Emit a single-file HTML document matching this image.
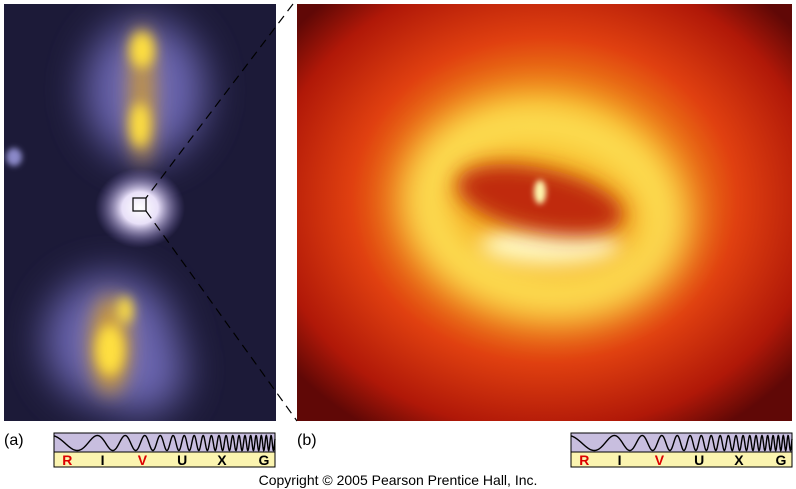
<!DOCTYPE html>
<html><head><style>
body{margin:0;width:796px;height:489px;background:#fff;overflow:hidden;position:relative;font-family:"Liberation Sans",sans-serif}
.abs{position:absolute}
</style></head><body>
<svg class="abs" style="left:0;top:0" width="796" height="489">
<defs>
<filter id="b6" filterUnits="userSpaceOnUse" x="0" y="0" width="796" height="489"><feGaussianBlur stdDeviation="6"/></filter>
<filter id="b10" filterUnits="userSpaceOnUse" x="0" y="0" width="796" height="489"><feGaussianBlur stdDeviation="10"/></filter>
<filter id="b20" filterUnits="userSpaceOnUse" x="0" y="0" width="796" height="489"><feGaussianBlur stdDeviation="20"/></filter>
<filter id="b3" filterUnits="userSpaceOnUse" x="0" y="0" width="796" height="489"><feGaussianBlur stdDeviation="3"/></filter>
<radialGradient id="rg" cx="0.5" cy="0.47" r="0.65">
<stop offset="0" stop-color="#f8c828"/><stop offset="0.35" stop-color="#f29a18"/><stop offset="0.6" stop-color="#e04010"/><stop offset="0.85" stop-color="#b01808"/><stop offset="1" stop-color="#600806"/></radialGradient>
<radialGradient id="core" cx="0.5" cy="0.5" r="0.5"><stop offset="0" stop-color="#fff"/><stop offset="0.4" stop-color="#e8e0f8"/><stop offset="1" stop-color="#8070c0" stop-opacity="0"/></radialGradient>
<clipPath id="cl"><rect x="4" y="4" width="272" height="417"/></clipPath>
<clipPath id="cr"><rect x="297" y="4" width="495" height="417"/></clipPath>
</defs>
<g clip-path="url(#cl)">
<rect x="4" y="4" width="272" height="417" fill="#1c1a38"/>
<g filter="url(#b20)" fill="#7a74c8" opacity="0.85">
<ellipse cx="145" cy="90" rx="60" ry="70"/>
<ellipse cx="110" cy="340" rx="65" ry="65"/>
<ellipse cx="140" cy="370" rx="45" ry="45"/>
</g>
<g filter="url(#b10)" fill="#c89840">
<ellipse cx="142" cy="95" rx="12" ry="70"/>
<ellipse cx="110" cy="345" rx="20" ry="50"/>
</g>
<g filter="url(#b6)" fill="#ffe040">
<ellipse cx="142" cy="50" rx="12" ry="18"/>
<ellipse cx="140" cy="125" rx="10" ry="22"/>
<ellipse cx="110" cy="350" rx="14" ry="25"/>
<ellipse cx="125" cy="310" rx="8" ry="14"/>
</g>
<ellipse cx="140" cy="208" rx="45" ry="40" fill="url(#core)"/>
<ellipse cx="14" cy="157" rx="8" ry="9" fill="#8a88c8" filter="url(#b3)"/>
<rect x="133" y="198" width="13" height="13" fill="none" stroke="#000" stroke-width="1.2"/>
</g>
<line x1="293" y1="4" x2="146" y2="198" stroke="#000" stroke-dasharray="9,6" stroke-width="1.2"/>
<line x1="146" y1="211" x2="297" y2="421" stroke="#000" stroke-dasharray="9,6" stroke-width="1.2"/>
<g clip-path="url(#cr)">
<rect x="297" y="4" width="495" height="417" fill="url(#rg)"/>
<ellipse cx="545" cy="210" rx="120" ry="85" fill="none" stroke="#ffee60" stroke-width="40" filter="url(#b20)" transform="rotate(10 545 210)"/>
<ellipse cx="550" cy="245" rx="70" ry="20" fill="#fff8c0" filter="url(#b10)"/>
<ellipse cx="540" cy="200" rx="85" ry="32" fill="#c02a08" filter="url(#b10)" transform="rotate(12 540 200)"/>
<ellipse cx="540" cy="192" rx="6" ry="12" fill="#fff8b0" filter="url(#b3)"/>
</g>
<g id="bars"></g>
<text x="4" y="445" font-size="16" font-family="Liberation Sans">(a)</text>
<text x="297" y="445" font-size="16" font-family="Liberation Sans">(b)</text>
<text x="398" y="485" font-size="14" text-anchor="middle" font-family="Liberation Sans">Copyright © 2005 Pearson Prentice Hall, Inc.</text>
</svg>
<script>
function bar(x0){
 var w=221,g='';
 g+='<rect x="'+x0+'" y="433" width="'+w+'" height="19" fill="#c8bedf" stroke="#000" stroke-width="1"/>';
 g+='<rect x="'+x0+'" y="452" width="'+w+'" height="15" fill="#fbf4b0" stroke="#000" stroke-width="1"/>';
 var d='',ph=0,N=w*4;
 for(var i=0;i<=N;i++){var t=i/N;var x=x0+t*w;var f=0.018+0.2*Math.pow(t,1.8);ph+=f*(w/N)*2*Math.PI;var y=443-7.5*Math.cos(ph+0.3);d+=(i?'L':'M')+x.toFixed(2)+','+y.toFixed(2);}
 g+='<path d="'+d+'" fill="none" stroke="#000" stroke-width="1.4"/>';
 var L=['R','I','V','U','X','G'],c=['#d00','#000','#d00','#000','#000','#000'],p=[0.06,0.22,0.40,0.58,0.76,0.95];
 for(var k=0;k<6;k++)g+='<text x="'+(x0+p[k]*w)+'" y="465" font-size="14" font-weight="bold" text-anchor="middle" fill="'+c[k]+'" font-family="Liberation Sans">'+L[k]+'</text>';
 return g;}
document.getElementById('bars').innerHTML=bar(54)+bar(571);
</script>
</body></html>
